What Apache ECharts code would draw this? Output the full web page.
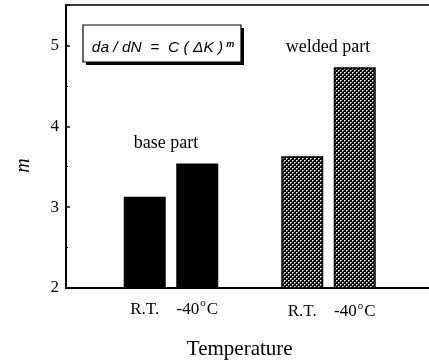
<!DOCTYPE html>
<html>
<head>
<meta charset="utf-8">
<script src="https://cdn.jsdelivr.net/npm/echarts@6/dist/echarts.min.js"></script>
<style>html,body{margin:0;padding:0;background:#fff;}#c{width:429px;height:364px;}</style>
</head>
<body>
<div id="c"></div>
<script>
// categories along the x axis (blank slots are spacing between groups)
var categories = ['', 'R.T.', '-40°C', '', 'R.T.', '-40°C', ''];
var basePart   = [null, 3.13, 3.54, null, null, null, null];
var weldedPart = [null, null, null, null, 3.63, 4.73, null];
var yTicks = [2, 3, 4, 5];
var groupNames = ['base part', 'welded part'];
var axisTitleX = 'Temperature';
var axisTitleY = 'm';

// dotted pattern for welded bars
var pc = document.createElement('canvas');
pc.width = 4; pc.height = 4;
var g = pc.getContext('2d');
g.fillStyle = '#000'; g.fillRect(0, 0, 4, 4);
g.fillStyle = '#fff';
g.fillRect(0, 0, 1, 1); g.fillRect(2, 2, 1, 1);
g.fillStyle = '#999';
g.fillRect(1, 0, 1, 1); g.fillRect(0, 1, 1, 1);
g.fillRect(3, 2, 1, 1); g.fillRect(2, 3, 1, 1);

var chart = echarts.init(document.getElementById('c'), null, {renderer: 'canvas'});
var serif = '"Liberation Serif", "Times New Roman", serif';

chart.setOption({
  animation: false,
  backgroundColor: '#fff',
  grid: {left: 66, top: 5, right: -4.5, bottom: 76, outerBoundsMode: 'none', containLabel: false, show: true, borderColor: '#000', borderWidth: 1.5, backgroundColor: 'transparent'},
  xAxis: {
    type: 'category',
    data: categories,
    name: axisTitleX,
    nameLocation: 'middle',
    nameGap: 51,
    nameTextStyle: {fontFamily: serif, fontSize: 21, color: '#000', padding: [0, 20, 0, 0]},
    axisLine: {show: true, lineStyle: {color: '#000', width: 2}},
    axisTick: {show: false},
    axisLabel: {
      interval: 0,
      margin: 10,
      fontFamily: serif,
      fontSize: 17,
      color: '#000',
      formatter: function (v, i) {
        var grp = i > 3 ? '2' : '1';
        if (v === '-40°C') return '{t' + grp + '|-40}{s' + grp + '|o}{t' + grp + '|C}';
        if (v === '') return '';
        return '{t' + grp + '|' + v + '}';
      },
      rich: {
        t1: {fontFamily: serif, fontSize: 17, color: '#000', lineHeight: 24},
        s1: {fontFamily: serif, fontSize: 11, color: '#000', verticalAlign: 'top', padding: [0, 1, 0, 1]},
        t2: {fontFamily: serif, fontSize: 17, color: '#000', lineHeight: 24, padding: [4, 0, 0, 0]},
        s2: {fontFamily: serif, fontSize: 11, color: '#000', verticalAlign: 'top', padding: [3, 1, 0, 1]}
      }
    },
    splitLine: {show: false}
  },
  yAxis: {
    type: 'value',
    min: yTicks[0],
    max: 5.5,
    interval: 1,
    name: axisTitleY,
    nameLocation: 'middle',
    nameGap: 32,
    nameTextStyle: {fontFamily: serif, fontSize: 20, fontStyle: 'italic', color: '#000', padding: [0, 38, 0, 0]},
    axisLine: {show: true, lineStyle: {color: '#000', width: 2}},
    axisTick: {show: true, inside: true, length: 4, lineStyle: {color: '#000', width: 1.5}},
    minorTick: {show: true, splitNumber: 2, length: 2, lineStyle: {color: '#000', width: 1}},
    axisLabel: {
      margin: 7,
      fontFamily: serif,
      fontSize: 17,
      color: '#000',
      showMaxLabel: false,
      formatter: function (v) { return yTicks.indexOf(v) >= 0 ? String(v) : ''; }
    },
    splitLine: {show: false}
  },
  series: [
    {
      name: groupNames[0],
      type: 'bar',
      data: basePart,
      barCategoryGap: '20%',
      barGap: '-100%',
      itemStyle: {color: '#000'}
    },
    {
      name: groupNames[1],
      type: 'bar',
      data: weldedPart,
      barCategoryGap: '20%',
      barGap: '-100%',
      itemStyle: {color: {image: pc, repeat: 'repeat'}, borderColor: '#000', borderWidth: 1.5}
    }
  ],
  graphic: [
    {type: 'rect', shape: {x: 86, y: 28, width: 158, height: 37}, style: {fill: '#000'}},
    {type: 'rect', shape: {x: 83, y: 25, width: 158, height: 37}, style: {fill: '#fff', stroke: '#000', lineWidth: 1.2}},
    {type: 'text', x: 163, y: 48, style: {
      text: '{a|da / dN  =  C ( \u0394K )}{b|m}',
      align: 'center', verticalAlign: 'middle',
      rich: {
        a: {fontFamily: '"Liberation Sans", Arial, sans-serif', fontStyle: 'italic', fontSize: 15.5, fill: '#000'},
        b: {fontFamily: '"Liberation Sans", Arial, sans-serif', fontStyle: 'italic', fontWeight: 'bold', fontSize: 9, fill: '#000', verticalAlign: 'top', padding: [0, 0, 0, 3]}
      }
    }},
    {type: 'text', x: 166, y: 143, style: {text: groupNames[0], align: 'center', verticalAlign: 'middle', font: '18px ' + serif, fill: '#000'}},
    {type: 'text', x: 328, y: 47, style: {text: groupNames[1], align: 'center', verticalAlign: 'middle', font: '18px ' + serif, fill: '#000'}}
  ]
});
</script>
</body>
</html>
